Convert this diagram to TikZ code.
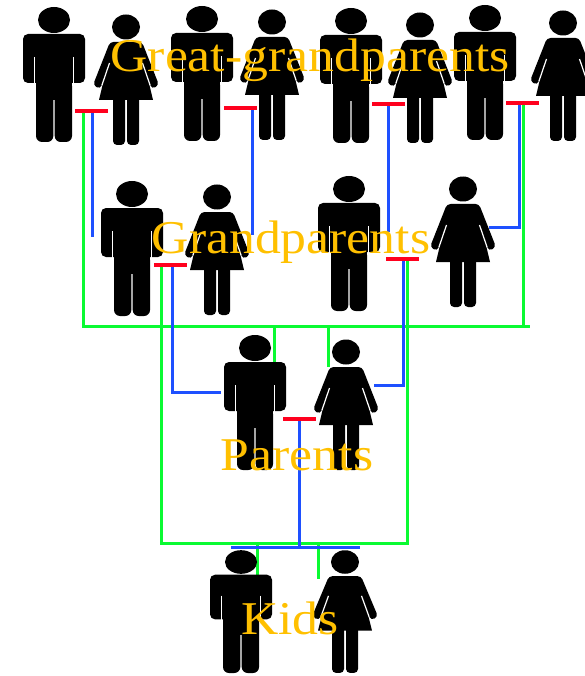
\documentclass[tikz,border=0pt]{standalone}
\usepackage{fontspec}
\setmainfont[FakeStretch=1.1]{Liberation Serif}
\usepackage{xcolor}
\definecolor{linkgreen}{RGB}{10,250,50}
\definecolor{linkblue}{RGB}{30,80,255}
\definecolor{barred}{RGB}{255,0,30}
\definecolor{gentext}{RGB}{255,192,0}

\tikzset{
    greenlink/.style={draw=linkgreen, line width=3pt},
    bluelink/.style={draw=linkblue, line width=3pt},
    couplebar/.style={fill=barred, minimum width=33pt, minimum height=3.5pt, inner sep=0pt, outer sep=0pt},
    gentitle/.style={text=gentext, anchor=base, inner sep=0pt, font=\fontsize{47}{47}\selectfont},
    man/.pic={
        \coordinate (-head) at (0,0);
        \fill (0,0) ellipse [x radius=16, y radius=13];
        \fill[rounded corners=5] (-31,14) rectangle (31,63);
        \fill (-18,30) rectangle (18,80);
        \fill[rounded corners=6] (-18,60) rectangle (-0.7,122);
        \fill[rounded corners=6] (0.7,60) rectangle (18,122);
        \draw[white, line width=1.3pt] (-19.5,37) -- (-19.5,64);
        \draw[white, line width=1.3pt] (19.5,37) -- (19.5,64);
    },
    woman/.pic={
        \coordinate (-head) at (0,0);
        \fill (0,0) ellipse [x radius=14, y radius=12.5];
        \fill[rounded corners=3.5] (-16,15) -- (16,15) -- (33,58) -- (26,62) -- (22,52) [sharp corners] -- (27,73) -- (-27,73) -- (-22,52) [rounded corners=3.5] -- (-26,62) -- (-33,58) -- cycle;
        \fill[rounded corners=4] (-13,60) rectangle (-1,118);
        \fill[rounded corners=4] (1,60) rectangle (13,118);
        \draw[white, line width=1.2pt] (-16.5,36) -- (-24,58);
        \draw[white, line width=1.2pt] (16.5,36) -- (24,58);
    },
}

\begin{document}
\begin{tikzpicture}[x=1pt, y=-1pt]
    \useasboundingbox (0,0) rectangle (585,676);

    % red bars between the couples
    \foreach \n/\x/\y in {a/91/111,b/240/108,c/388/104,d/522/103,e/170/265,f/402/259,g/299/419}
    \node[couplebar] (bar\n) at (\x,\y) {};

    % free ends of the links
    \coordinate (tipa) at (92,237);
    \coordinate (tipb) at (252,235);
    \coordinate (tipc) at (388,232);
    \coordinate (cornerd) at (519,227);
    \coordinate (tipd) at (489,227);
    \coordinate (cornere) at (172,392);
    \coordinate (tipe) at (221,392);
    \coordinate (cornerf) at (403,385);
    \coordinate (tipf) at (374,385);
    \coordinate (kidsl) at (231,547);
    \coordinate (kidsr) at (360,547);
    \coordinate (kidsm) at (299,547);
    \coordinate (topl) at (83,326);
    \coordinate (topr) at (530,326);
    \coordinate (topa) at (274,326);
    \coordinate (topb) at (328,326);
    \coordinate (topc) at (523,326);
    \coordinate (dropa) at (274,363);
    \coordinate (dropb) at (328,367);
    \coordinate (lowl) at (161,543);
    \coordinate (lowr) at (407,543);
    \coordinate (lowa) at (257,543);
    \coordinate (lowb) at (318,543);
    \coordinate (dropc) at (257,576);
    \coordinate (dropd) at (318,579);

    % green links
    \draw[greenlink] (bara.center -| topl) -- (topl) -- (topr);
    \draw[greenlink] (bard.center -| topc) -- (topc);
    \draw[greenlink] (topa) -- (dropa);
    \draw[greenlink] (topb) -- (dropb);
    \draw[greenlink] (bare.center -| lowl) -- (lowl) -- (lowr) -- (barf.center -| lowr);
    \draw[greenlink] (lowa) -- (dropc);
    \draw[greenlink] (lowb) -- (dropd);

    % blue links
    \draw[bluelink] (bara.center -| tipa) -- (tipa);
    \draw[bluelink] (barb.center -| tipb) -- (tipb);
    \draw[bluelink] (barc.center -| tipc) -- (tipc);
    \draw[bluelink] (bard.center -| cornerd) -- (cornerd) -- (tipd);
    \draw[bluelink] (bare.center -| cornere) -- (cornere) -- (tipe);
    \draw[bluelink] (barf.center -| cornerf) -- (cornerf) -- (tipf);
    \draw[bluelink] (barg.center) -- (kidsm);
    \draw[bluelink] (kidsl) -- (kidsr);

    % people
    \foreach \n/\x/\y in {gm1/54/20,gm2/202/19,gm3/351/21,gm4/485/18,pm1/132/194,pm2/349/189,fm/255/348}
    \pic (\n) at (\x,\y) {man};
    \foreach \n/\x/\y in {gw1/126/27,gw2/272/22,gw3/420/25,gw4/563/23,pw1/217/197,pw2/463/189,fw/346/352}
    \pic (\n) at (\x,\y) {woman};
    \pic[yscale=0.91] (kidm) at (241,562) {man};
    \pic[yscale=0.94] (kidw) at (345,562) {woman};

    % bars again, over the people
    \foreach \n in {a,b,c,d,e,f,g}
    \fill[barred] (bar\n.south west) rectangle (bar\n.north east);

    % titles
    \node[gentitle] (great) at (310,72) {Great-grandparents};
    \node[gentitle] (grand) at (291,253) {Grandparents};
    \node[gentitle] (parents) at (297,470) {Parents};
    \node[gentitle] (kids) at (290,634) {Kids};
\end{tikzpicture}
\end{document}
